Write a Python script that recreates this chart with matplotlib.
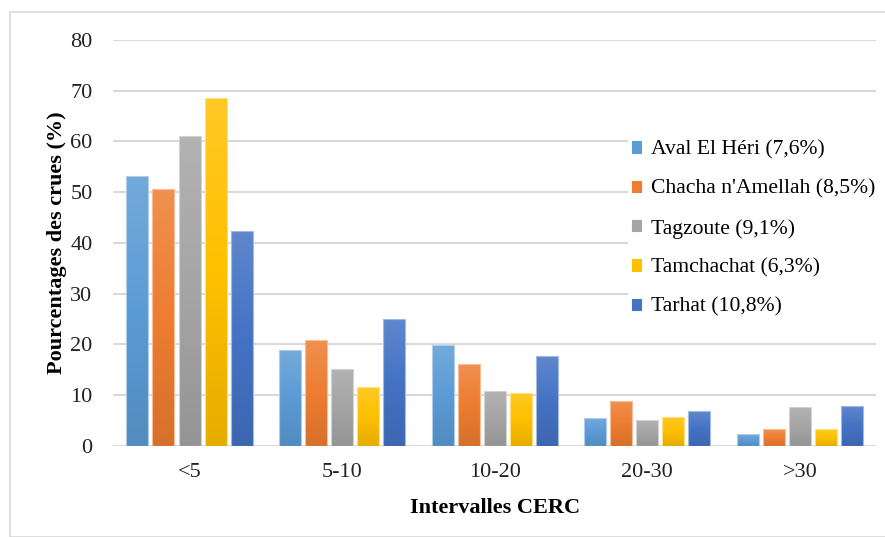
import numpy as np
import matplotlib.pyplot as plt
from matplotlib.colors import to_rgb, LinearSegmentedColormap
from matplotlib.patches import Rectangle

plt.rcParams['font.family'] = ['Liberation Serif', 'DejaVu Serif']

categories = ['<5', '5-10', '10-20', '20-30', '>30']
series_names = ['Aval El Héri (7,6%)', "Chacha n'Amellah (8,5%)", 'Tagzoute (9,1%)',
                'Tamchachat (6,3%)', 'Tarhat (10,8%)']
aval = [53.2, 18.9, 19.9, 5.6, 2.3]
chacha = [50.6, 20.9, 16.2, 8.9, 3.3]
tagzoute = [61.1, 15.2, 10.8, 5.1, 7.6]
tamchachat = [68.6, 11.7, 10.5, 5.8, 3.3]
tarhat = [42.4, 25.0, 17.7, 6.8, 7.9]
series = [aval, chacha, tagzoute, tamchachat, tarhat]
colors = ['#5B9BD5', '#ED7D31', '#A5A5A5', '#FFC000', '#4472C4']


def mix(c, other, t):
    c = np.array(to_rgb(c))
    return tuple(c + (np.array(other) - c) * t)


fig = plt.figure(figsize=(8.85, 5.37), dpi=100)
ax = fig.add_axes([0.128, 0.1695, 0.862, 0.756])

# outer frame like the exported chart
fig.patches.append(Rectangle((10 / 885, 0), 1, 1 - 12 / 537, transform=fig.transFigure,
                             fill=False, edgecolor='#D9D9D9', lw=1.2))

x = np.arange(len(categories))
slot = 0.171
width = 0.144
grad = np.linspace(0, 1, 256).reshape(-1, 1)

for i, (vals, name, col) in enumerate(zip(series, series_names, colors)):
    pos = x + (i - 2) * slot
    bars = ax.bar(pos, vals, width, color=col, edgecolor=mix(col, (1, 1, 1), 0.5),
                  linewidth=0.8, label=name, zorder=2)
    cmap = LinearSegmentedColormap.from_list(
        'g%d' % i, [mix(col, (0, 0, 0), 0.1), col, mix(col, (1, 1, 1), 0.15)])
    for b in bars:
        bx, by = b.get_x(), b.get_y()
        im = ax.imshow(grad, cmap=cmap, aspect='auto', origin='lower',
                       extent=(bx, bx + b.get_width(), by, by + b.get_height()), zorder=2.5)
        im.set_clip_path(b)
    for b in bars:
        b.set_facecolor('none')
        b.set_zorder(3)

ax.set_xlim(-0.5, len(categories) - 0.5)
ax.set_ylim(0, 80)
ax.set_yticks(range(0, 81, 10))
ax.set_xticks(x)
ax.set_xticklabels(categories)
ax.grid(axis='y', color='#D9D9D9', lw=1.5, zorder=0)
ax.set_axisbelow(True)
for s in ax.spines.values():
    s.set_visible(False)
ax.tick_params(axis='both', length=0, labelsize=16, colors='#222222')
ax.tick_params(axis='y', pad=15)
ax.tick_params(axis='x', pad=12)

ax.set_ylabel('Pourcentages des crues (%)', fontsize=16, fontweight='bold', labelpad=2)
ax.set_xlabel('Intervalles CERC', fontsize=16, fontweight='bold', labelpad=12)

leg = ax.legend(loc='upper left', bbox_to_anchor=(0.66, 0.79), fontsize=15.6,
                frameon=True, framealpha=1, edgecolor='none', facecolor='white',
                handlelength=0.42, handleheight=0.42, handletextpad=0.45,
                labelspacing=0.92, borderpad=0.2, fancybox=False)
for h, col in zip(leg.legend_handles, colors):
    h.set_facecolor(col)
    h.set_edgecolor(col)

fig.savefig('out.png', dpi=100)
